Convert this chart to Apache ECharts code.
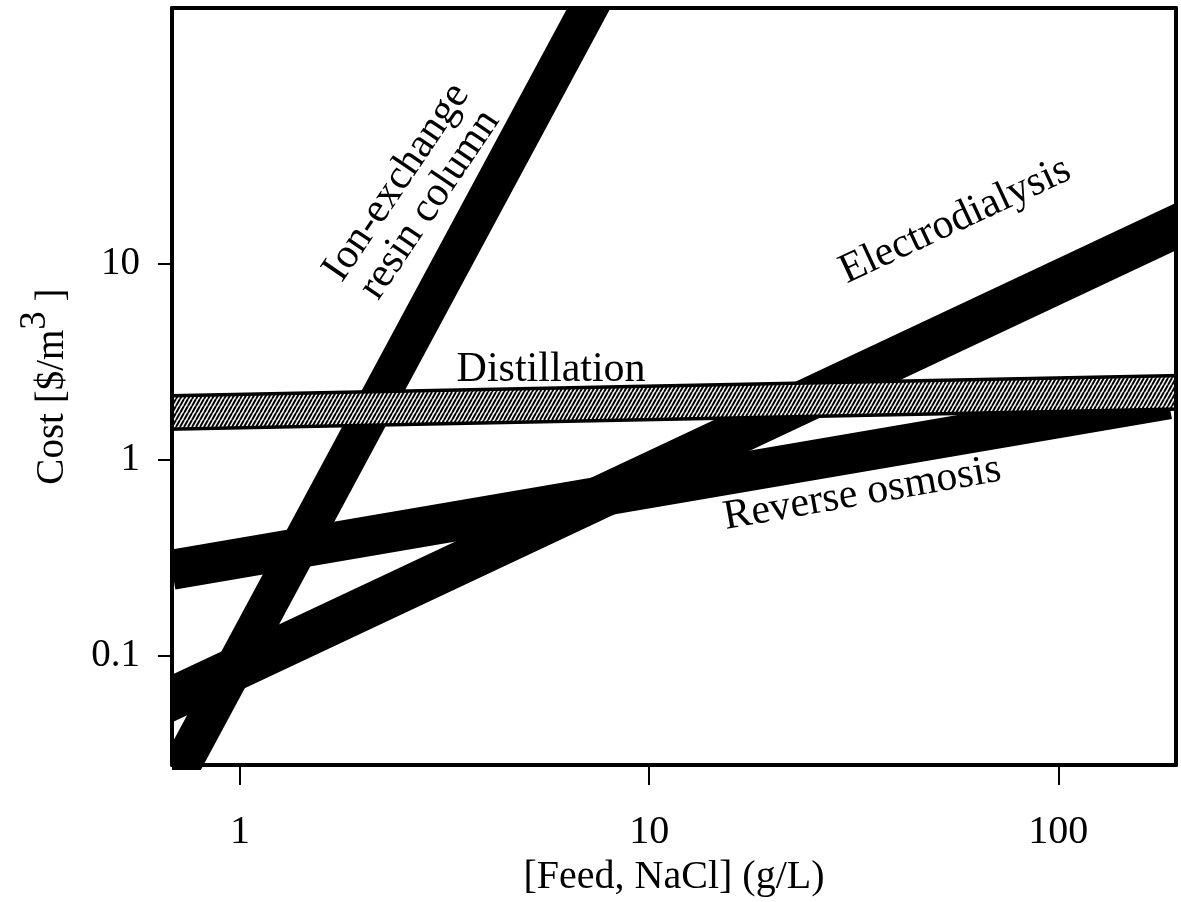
<!DOCTYPE html>
<html><head><meta charset="utf-8">
<script src="https://cdn.jsdelivr.net/npm/echarts@6/dist/echarts.min.js"></script>
<style>html,body{margin:0;padding:0;background:#fff}#c{width:1181px;height:902px}</style>
</head><body><div id="c"></div>
<script>
// ---- data (log-log) ----
const xTicks = [1, 10, 100];
const yTicks = [0.1, 1, 10];
const xRange = [0.682, 194];
const yRange = [0.0278, 200];

// band centre lines: [feed g/L], [cost $/m3]
const ionX = [0.721, 7.09];   const ionY = [0.0278, 196];
const edX  = [0.682, 194];    const edY  = [0.0607, 15.4];
const roX  = [0.682, 186];    const roY  = [0.275, 2.03];
const distX = [0.682, 194];   const distY = [1.74, 2.20];

// in-plot labels
const labelText  = ['Ion-exchange\nresin column', 'Distillation', 'Electrodialysis', 'Reverse osmosis'];
const labelX     = [2.65, 5.76, 56.0, 33.2];
const labelY     = [22.7, 2.88, 16.5, 0.670];
const labelAngle = [56, 0, 25, 10];

// ---- layout ----
const W = 1181, H = 902;
const G = { left: 172, right: 5, top: 8, bottom: 132 };
const FONT = "'Liberation Serif','Times New Roman',serif";

// hatch pattern
function hatch() {
  const w = 4, h = 7;
  const c = document.createElement('canvas');
  c.width = w; c.height = h;
  const g = c.getContext('2d');
  g.fillStyle = '#fff'; g.fillRect(0, 0, w, h);
  g.strokeStyle = '#000'; g.lineWidth = 2.0;
  for (const k of [-w, 0, w]) {
    g.beginPath(); g.moveTo(k, h); g.lineTo(k + w, 0); g.stroke();
  }
  return c;
}
const pat = { image: hatch(), repeat: 'repeat' };

function pts(xs, ys) { return xs.map((x, i) => [x, ys[i]]); }
function band(name, xs, ys, width, color, cap) {
  return {
    name, type: 'line', data: pts(xs, ys), symbol: 'none', showSymbol: false,
    clip: true, silent: true, animation: false,
    lineStyle: { color: color, width: width, cap: cap || 'square' }
  };
}

// white mask outside the plotting area (line clip is widened by ECharts)
const maskRects = [
  [0, 0, G.left, H],
  [W - G.right, 0, G.right, H],
  [0, 0, W, G.top],
  [0, H - G.bottom, W, G.bottom]
].map(r => ({ type: 'rect', z: 5, silent: true,
  shape: { x: r[0], y: r[1], width: r[2], height: r[3] }, style: { fill: '#fff' } }));

const chart = echarts.init(document.getElementById('c'), null, { renderer: 'canvas' });
const axisCommon = {
  type: 'log', logBase: 10, z: 10,
  axisLine: { show: true, onZero: false, lineStyle: { color: '#000', width: 4 } },
  splitLine: { show: false }
};
chart.setOption({
  backgroundColor: '#fff',
  animation: false,
  grid: { left: G.left, right: G.right, top: G.top, bottom: G.bottom, containLabel: false },
  graphic: { elements: maskRects },
  xAxis: [
    Object.assign({}, axisCommon, {
      min: xRange[0], max: xRange[1], position: 'bottom',
      name: '[Feed, NaCl] (g/L)', nameLocation: 'middle', nameGap: 86,
      nameTextStyle: { fontFamily: FONT, fontSize: 40, color: '#000' },
      axisTick: { show: true, length: 20, customValues: xTicks, lineStyle: { color: '#000', width: 2 } },
      axisLabel: { show: true, customValues: xTicks, margin: 47, fontFamily: FONT, fontSize: 40, color: '#000',
                   formatter: v => String(v) }
    }),
    Object.assign({}, axisCommon, {
      min: xRange[0], max: xRange[1], position: 'top',
      axisTick: { show: false }, axisLabel: { show: false }
    })
  ],
  yAxis: [
    Object.assign({}, axisCommon, {
      min: yRange[0], max: yRange[1], position: 'left',
      name: '{a|Cost [$/m}{s|3}{a| ]}', nameLocation: 'middle', nameGap: 100, nameRotate: 90,
      nameTextStyle: { fontFamily: FONT, fontSize: 39, color: '#000',
        rich: {
          a: { fontFamily: FONT, fontSize: 39, color: '#000', verticalAlign: 'bottom' },
          s: { fontFamily: FONT, fontSize: 37, color: '#000', verticalAlign: 'bottom', padding: [0, 0, 18, 0] }
        } },
      axisTick: { show: true, length: 14, customValues: yTicks, lineStyle: { color: '#000', width: 2 } },
      axisLabel: { show: true, customValues: yTicks, margin: 32, fontFamily: FONT, fontSize: 39, color: '#000',
                   formatter: v => String(v) }
    }),
    Object.assign({}, axisCommon, {
      min: yRange[0], max: yRange[1], position: 'right',
      axisTick: { show: false }, axisLabel: { show: false }
    })
  ],
  series: [
    band('Ion-exchange resin column', ionX, ionY, 38, '#000'),
    band('Electrodialysis', edX, edY, 43, '#000'),
    band('Reverse osmosis', roX, roY, 40, '#000', 'butt'),
    band('Distillation border', distX, distY, 37, '#000'),
    band('Distillation', distX, distY, 30, pat),
    {
      type: 'scatter', symbolSize: 0, silent: true, animation: false, z: 6,
      itemStyle: { opacity: 1 },
      data: labelText.map((t, i) => ({
        name: t, value: [labelX[i], labelY[i]],
        label: { rotate: labelAngle[i] }
      })),
      label: { show: true, position: 'inside', formatter: '{b}', fontFamily: FONT, fontSize: 42,
               color: '#000', opacity: 1, lineHeight: 40, align: 'center', verticalAlign: 'middle' }
    }
  ]
});
</script>
</body></html>
